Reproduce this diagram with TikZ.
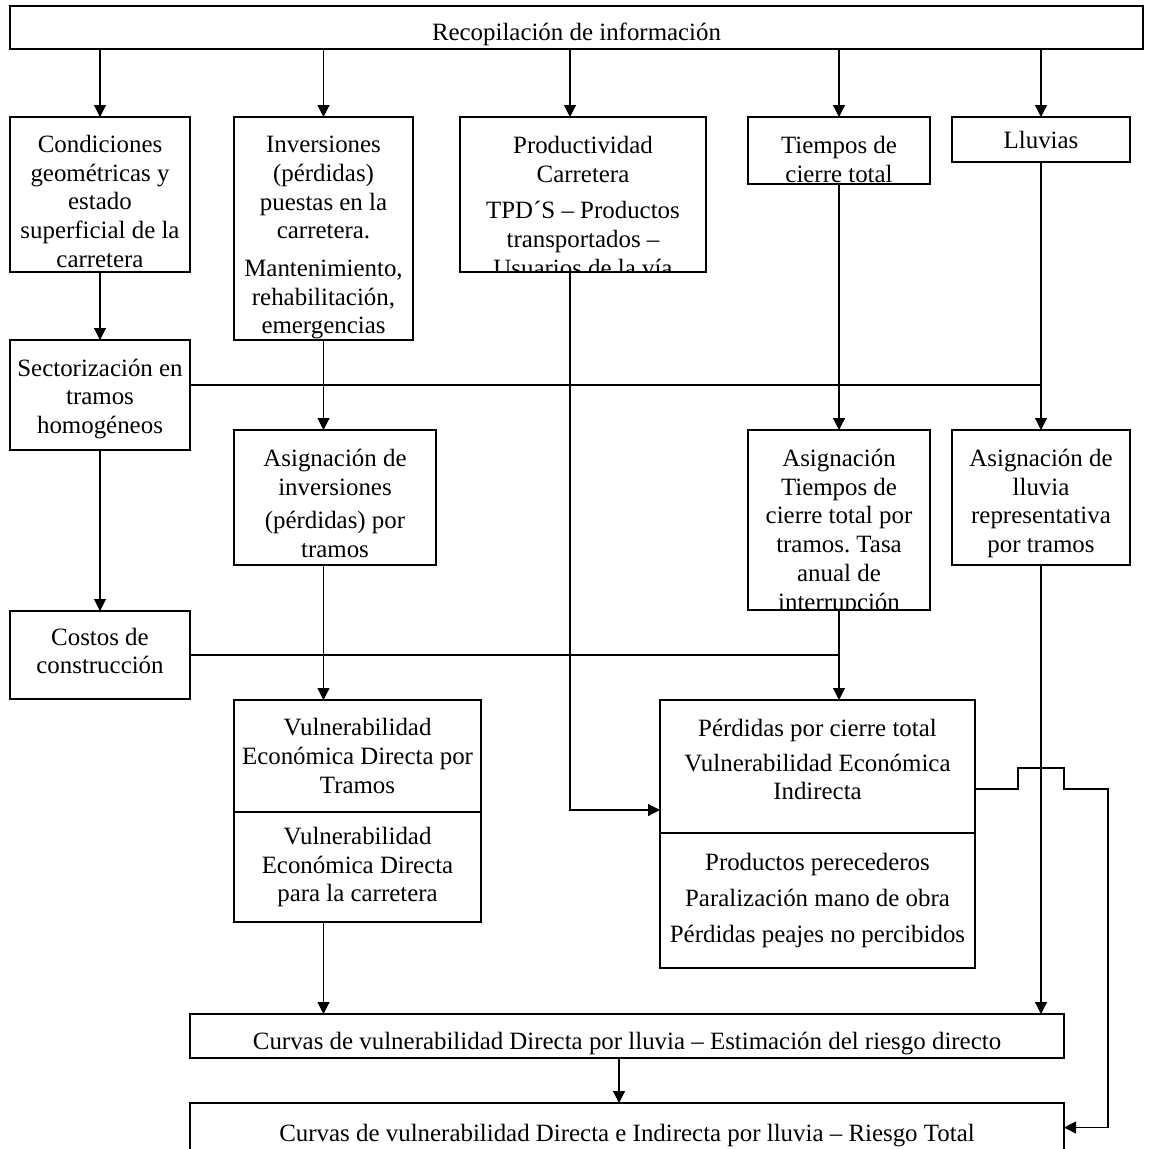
\documentclass[tikz,border=0pt]{standalone}
\usepackage{fontspec}
\setmainfont{Liberation Serif}
\usetikzlibrary{positioning, arrows.meta}
\frenchspacing

% struts to push the text of a box down or up
\newcommand{\dnstrut}[1]{\rule{0pt}{#1pt}}
\newcommand{\upstrut}[1]{\rule[-#1pt]{0pt}{0pt}}

\begin{document}
\begin{tikzpicture}[x=1pt, y=-1pt,
  every node/.style={font=\fontsize{24.9}{28.7}\selectfont},
  box/.style={draw, line width=1.4pt, anchor=north west, align=center, inner sep=0pt, outer sep=0pt},
  txt/.style={align=center, inner sep=0pt},
  arr/.style={line width=1.2pt, -{Triangle[length=12pt,width=12pt]}},
  line/.style={line width=1.2pt}]

\useasboundingbox (0,0) rectangle (1155,1148);

\node[box, minimum width=1133pt, minimum height=43pt] (rec) at (10,6) {\dnstrut{31}Recopilación de información};

\node[box, minimum width=180pt, minimum height=155pt] (cond) at (10,117)
  {\dnstrut{31}Condiciones\\ geométricas y\\ estado\\ superficial de la\\ carretera};
\node[box, minimum width=179pt, minimum height=223pt] (inv) at (234,117)
  {\dnstrut{35}Inversiones\\ (pérdidas)\\ puestas en la\\ carretera.\\[9pt] Mantenimiento,\\ rehabilitación,\\ emergencias};
\begin{scope}
  \clip (460,117) rectangle (706,272);
  \node[txt, anchor=north] (prod-t) at (583,136)
    {Productividad\\ Carretera\\[8pt] TPD´S – Productos\\ transportados –\\ Usuarios de la vía};
\end{scope}
\node[box, minimum width=246pt, minimum height=155pt] (prod) at (460,117) {};
\node[box, minimum width=182pt, minimum height=67pt] (tiem) at (748,117) {\dnstrut{35}Tiempos de\\ cierre total};
\node[box, minimum width=178pt, minimum height=45pt] (lluv) at (952,117) {Lluvias};

\node[box, minimum width=180pt, minimum height=110pt] (sect) at (10,340)
  {\dnstrut{25}Sectorización en\\ tramos\\ homogéneos};
\node[box, minimum width=202pt, minimum height=135pt] (asigI) at (234,430)
  {\dnstrut{29}Asignación de\\ inversiones\\[5pt] (pérdidas) por\\ tramos};
\begin{scope}
  \clip (748,430) rectangle (930,610);
  \node[txt, anchor=north] (asigT-t) at (839,449)
    {Asignación\\ Tiempos de\\ cierre total por\\ tramos. Tasa\\ anual de\\ interrupción};
\end{scope}
\node[box, minimum width=182pt, minimum height=180pt] (asigT) at (748,430) {};
\node[box, minimum width=178pt, minimum height=135pt] (asigL) at (952,430)
  {\dnstrut{29}Asignación de\\ lluvia\\ representativa\\ por tramos};

\node[box, minimum width=180pt, minimum height=88pt] (cost) at (10,611) {Costos de\\ construcción\upstrut{8}};
\node[box, minimum width=247pt, minimum height=112pt] (vdt) at (234,700)
  {Vulnerabilidad\\ Económica Directa por\\ Tramos};
\node[box, minimum width=247pt, minimum height=110pt] (vdc) at (234,812)
  {Vulnerabilidad\\ Económica Directa\\ para la carretera};
\node[box, minimum width=315pt, minimum height=133pt] (perdA) at (660,700)
  {Pérdidas por cierre total\\[6pt] Vulnerabilidad Económica\\ Indirecta\upstrut{14}};
\node[box, minimum width=315pt, minimum height=135pt] (perdB) at (660,833)
  {Productos perecederos\\[7pt] Paralización mano de obra\\[7pt] Pérdidas peajes no percibidos};

\node[box, minimum width=874pt, minimum height=44pt] (cur1) at (190,1014)
  {\dnstrut{33}Curvas de vulnerabilidad Directa por lluvia – Estimación del riesgo directo};
\node[box, minimum width=874pt, minimum height=49pt] (cur2) at (190,1103)
  {\dnstrut{33}Curvas de vulnerabilidad Directa e Indirecta por lluvia – Riesgo Total};

% from the top box
\draw[arr] (rec.south -| cond.north) -- (cond.north);
\draw[arr] (rec.south -| inv.north) -- (inv.north);
\draw[arr] ([xshift=-13pt]rec.south -| prod.north) -- ([xshift=-13pt]prod.north);
\draw[arr] (rec.south -| tiem.north) -- (tiem.north);
\draw[arr] (rec.south -| lluv.north) -- (lluv.north);

% left column
\draw[arr] (cond) -- (sect);
\draw[arr] (sect) -- (cost);
\draw[line] ([yshift=10pt]sect.east) -- ([yshift=10pt]sect.east -| lluv.south);
\draw[line] (cost.east) -- (cost.east -| asigT.south);

% inversiones
\draw[arr] (inv.south) -- (inv.south |- asigI.north);
\draw[arr] (asigI.south -| inv.south) -- (vdt.north -| inv.south);
\draw[arr] (vdc.south -| inv.south) -- (cur1.north -| inv.south);

% productividad, tiempos, lluvias
\draw[arr] ([xshift=-13pt]prod.south) |- ([yshift=-43.5pt]perdA.west);
\draw[arr] (tiem) -- (asigT);
\draw[arr] (asigT.south) -- (asigT.south |- perdA.north);
\draw[arr] (lluv) -- (asigL);
\draw[arr] (asigL.south) -- (asigL.south |- cur1.north);

% bottom
\draw[arr] ([xshift=-8pt]cur1.south) -- ([xshift=-8pt]cur1.south |- cur2.north);
\draw[arr] ([yshift=-22.5pt]perdA.east) -- ++(43,0) -- ++(0,-21) -- ++(46,0) -- ++(0,21)
  -- ++(44,0) |- (cur2.east);

\end{tikzpicture}
\end{document}
